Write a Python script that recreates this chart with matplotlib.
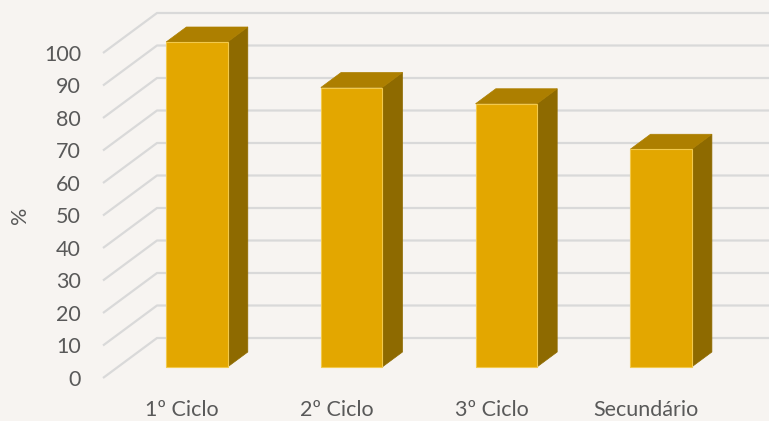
import matplotlib
matplotlib.use("Agg")
import matplotlib.pyplot as plt
from matplotlib.patches import Polygon

categories = ["1º Ciclo", "2º Ciclo", "3º Ciclo", "Secundário"]
values = [100, 86, 81, 67]
yticks = [0, 10, 20, 30, 40, 50, 60, 70, 80, 90, 100]
ylabel = "%"

BG = "#F7F4F1"
GRID = "#D9D9D9"
FRONT = "#E3A700"
TOP = "#AD7F00"
SIDE = "#8E6A00"
EDGE = "#F2C94C"
TXT = "#595959"

plt.rcParams['font.family'] = ['Lato', 'DejaVu Sans']

W, H = 769, 421
fig = plt.figure(figsize=(W / 100, H / 100), dpi=100, facecolor=BG)
ax = fig.add_axes([0, 0, 1, 1])
ax.set_facecolor(BG)
ax.axis("off")

S = 154.7      # px per category
PY = 3.25      # px per %
X0, Y0 = 182, 378
ax.set_xlim((0 - X0) / S, (W - X0) / S)
ax.set_ylim((Y0 - H) / PY, Y0 / PY)

DX = 54 / S
DY = 40 / PY
xL = (103 - X0) / S
xR = (W + 5 - X0) / S
f0, f1 = 0.275, 0.65
hw = 61.4 / 2 / S

# gridlines (floor/side diagonal + back wall)
for v in yticks:
    ax.plot([xL, xL + DX, xR], [v, v + DY, v + DY], color=GRID, lw=1.6,
            solid_capstyle="butt", zorder=1)

# bars
for i, v in enumerate(values):
    cx = i + f0 * DX
    yb = f0 * DY
    x0, x1 = cx - hw, cx + hw
    ddx = (f1 - f0) * DX
    ddy = (f1 - f0) * DY
    side = Polygon([(x1, yb), (x1 + ddx, yb + ddy), (x1 + ddx, yb + v + ddy), (x1, yb + v)],
                   closed=True, facecolor=SIDE, edgecolor=SIDE, lw=0.5, zorder=3)
    top = Polygon([(x0, yb + v), (x1, yb + v), (x1 + ddx, yb + v + ddy), (x0 + ddx, yb + v + ddy)],
                  closed=True, facecolor=TOP, edgecolor=TOP, lw=0.5, zorder=3)
    front = Polygon([(x0, yb), (x1, yb), (x1, yb + v), (x0, yb + v)],
                    closed=True, facecolor=FRONT, edgecolor=EDGE, lw=0.8, zorder=4)
    for p in (side, top, front):
        ax.add_patch(p)

# y tick labels
for v in yticks:
    ax.text((81 - X0) / S, v - 0.6, str(v), ha="right", va="center",
            fontsize=15.5, color=TXT, zorder=5)

# category labels
for i, c in enumerate(categories):
    ax.text(i, (Y0 - 410) / PY, c, ha="center", va="center",
            fontsize=15.5, color=TXT, zorder=5, family=['Noto Sans', 'DejaVu Sans'] if False else None)

# axis title
ax.text((20 - X0) / S, (Y0 - 215) / PY, ylabel, rotation=90, ha="center", va="center",
        fontsize=15.5, color=TXT)

fig.savefig("out.png", dpi=100, facecolor=BG)
